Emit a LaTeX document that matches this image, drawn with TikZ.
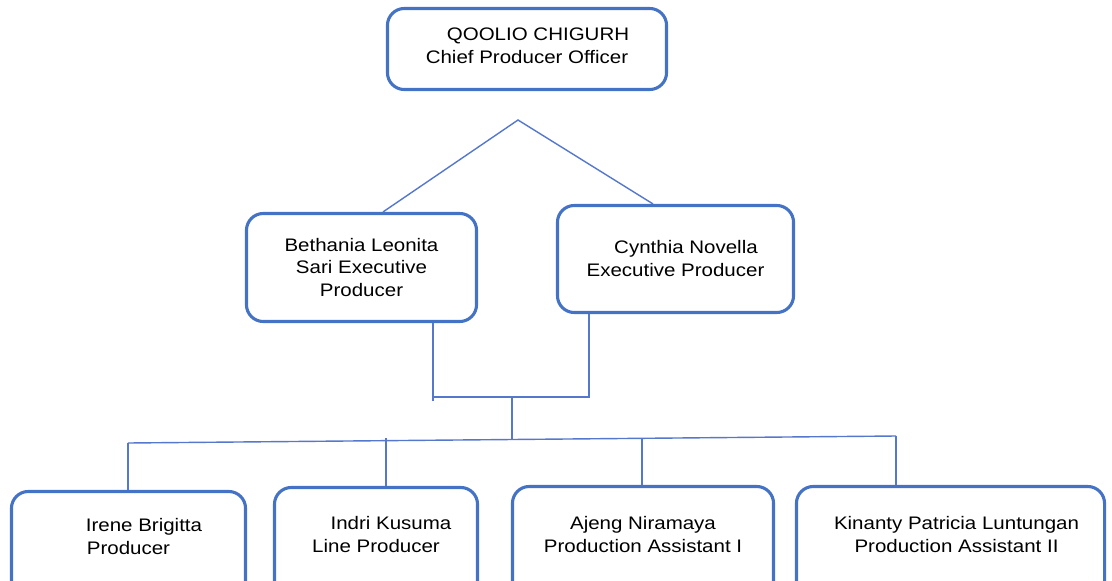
\documentclass[tikz,border=0pt]{standalone}
\usepackage{fontspec}
\setmainfont{Liberation Sans}[FakeStretch=1.13]
\usetikzlibrary{calc}
\definecolor{boxblue}{HTML}{4472C4}
\definecolor{lineblue}{HTML}{5577CC}
\newcommand{\lowpad}[1]{\rule[-#1]{0pt}{0pt}}

\begin{document}
\begin{tikzpicture}[x=0.025cm,y=-0.025cm,
  box/.style={draw=boxblue,line width=2.2pt,rounded corners=0.42cm,align=center,
    inner sep=0pt,font=\fontsize{12.9}{16.3}\selectfont},
  link/.style={draw=lineblue,line width=1pt}]
\useasboundingbox (0,0) rectangle (1112,580);
\clip (0,0) rectangle (1112,580);
\node[box,minimum width=6.975cm,minimum height=2.025cm] (ceo) at (527,49)
  {\hspace*{0.55cm}QOOLIO CHIGURH\\Chief Producer Officer\lowpad{0.15cm}};
\node[box,minimum width=5.75cm,minimum height=2.7cm] (beth) at (361.5,267.5)
  {Bethania Leonita\\Sari Executive\\Producer};
\node[box,minimum width=5.9cm,minimum height=2.675cm] (cyn) at (675.5,259)
  {\hspace*{0.525cm}Cynthia Novella\\Executive Producer\lowpad{0.05cm}};
\node[box,minimum width=5.85cm,minimum height=2.65cm] (irene) at (128.5,544.5)
  {\hspace*{0.775cm}Irene Brigitta\\Producer\lowpad{0.4cm}};
\node[box,minimum width=5.075cm,minimum height=2.75cm] (indri) at (376,542.5)
  {\hspace*{0.75cm}Indri Kusuma\\Line Producer\lowpad{0.4cm}};
\node[box,minimum width=6.525cm,minimum height=2.775cm] (ajeng) at (643,542)
  {Ajeng Niramaya\\Production Assistant I\lowpad{0.4cm}};
\node[box,minimum width=7.7cm,minimum height=2.775cm] (kinanty) at (950.5,542)
  {\hspace*{0.3cm}Kinanty Patricia Luntungan\\\hspace*{0.3cm}Production Assistant II\lowpad{0.4cm}};

\coordinate (apex) at (518,120);
\draw[link] ($(beth.north)+(21.5,0)$) -- (apex) -- ($(cyn.north)+(-22.5,0)$);

\coordinate (join) at (512,397);
\coordinate (bfoot) at ($(beth.south)+(71.5,0)$);
\coordinate (cfoot) at ($(cyn.south)+(-86.5,0)$);
\draw[link] (bfoot) -- ++(0,78);
\draw[link] (bfoot |- join) -- (join) -| (cfoot);

\coordinate (busL) at (128,443);
\coordinate (busR) at (896,436);
\coordinate (busM) at (512,439);
\coordinate (tIndri) at (386,438);
\coordinate (tAjeng) at (642,438);
\draw[link] (join) -- (busM);
\draw[link] (busL) -- (busR);
\draw[link] (busL) -- (busL |- irene.north);
\draw[link] (tIndri) -- (tIndri |- indri.north);
\draw[link] (tAjeng) -- (tAjeng |- ajeng.north);
\draw[link] (busR) -- (busR |- kinanty.north);
\end{tikzpicture}
\end{document}
